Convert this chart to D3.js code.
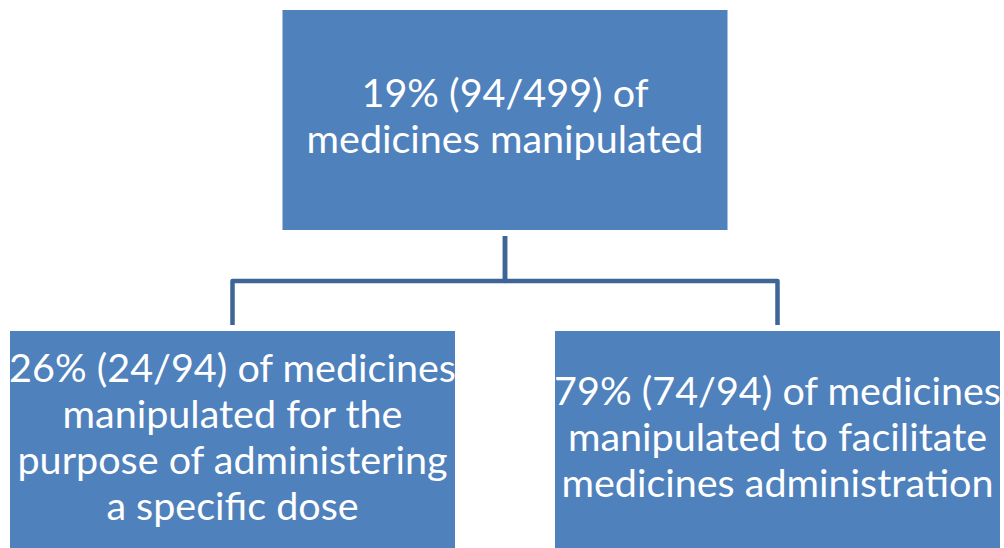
<!DOCTYPE html>
<html>
<head>
<meta charset="utf-8">
<script src="https://cdn.jsdelivr.net/npm/d3@7"></script>
<style>
  html, body { margin: 0; padding: 0; background: #fff; }
  svg { display: block; }
</style>
</head>
<body>
<div id="chart"></div>
<script>
// nodes of the tree, with lines of text as they wrap in the boxes
const nodeIds = ['all', 'dose', 'admin'];
const nodeParents = [null, 'all', 'all'];
const nodeLines = [
   ['19% (94/499) of', 'medicines manipulated'],
   ['26% (24/94) of medicines', 'manipulated for the', 'purpose of administering', 'a specific dose'],
   ['79% (74/94) of medicines', 'manipulated to facilitate', 'medicines administration'],
];

const width = 1004;
const height = 548;
const boxW = 445;
const boxH = 220;
const lineH = 46;
const fill = '#4F81BD';
const lineColor = '#3D6596';

const svg = d3
   .select('#chart')
   .append('svg')
   .attr('width', width)
   .attr('height', height);

const table = nodeIds.map((id, i) => ({ id, parent: nodeParents[i], lines: nodeLines[i] }));
const root = d3
   .stratify()
   .id((d) => d.id)
   .parentId((d) => d.parent)(table);

// sibling spacing 545, level spacing 321
d3.tree().nodeSize([545, 321])(root);

const g = svg.append('g').attr('transform', 'translate(505,120)');

// elbow connectors
const gapTop = 6;
const gapBottom = 6;
root.links().forEach((l) => {
   const y0 = l.source.y + boxH / 2 + gapTop;
   const y1 = l.target.y - boxH / 2 - gapBottom;
   const ym = l.source.y + boxH / 2 + 51;
   const p = d3.path();
   p.moveTo(l.source.x, y0);
   p.lineTo(l.source.x, ym);
   p.lineTo(l.target.x, ym);
   p.lineTo(l.target.x, y1);
   g.append('path')
      .attr('d', p.toString())
      .attr('fill', 'none')
      .attr('stroke', lineColor)
      .attr('stroke-width', 4.5)
      .attr('stroke-linejoin', 'round');
});

const node = g
   .selectAll('.node')
   .data(root.descendants())
   .join('g')
   .attr('class', 'node')
   .attr('transform', (d) => `translate(${d.x},${d.y})`);

node
   .append('rect')
   .attr('x', -boxW / 2)
   .attr('y', -boxH / 2)
   .attr('width', boxW)
   .attr('height', boxH)
   .attr('fill', fill);

node
   .append('text')
   .attr('text-anchor', 'middle')
   .attr('fill', '#fff')
   .attr('font-family', 'Lato, "Open Sans", sans-serif')
   .attr('font-size', 39.5)
   .each(function (d) {
      const lines = d.data.lines;
      const first = -((lines.length - 1) / 2) * lineH + 10;
      d3.select(this)
         .selectAll('tspan')
         .data(lines)
         .join('tspan')
         .attr('x', 0)
         .attr('y', (t, i) => first + i * lineH)
         .text((t) => t);
   });
</script>
</body>
</html>
